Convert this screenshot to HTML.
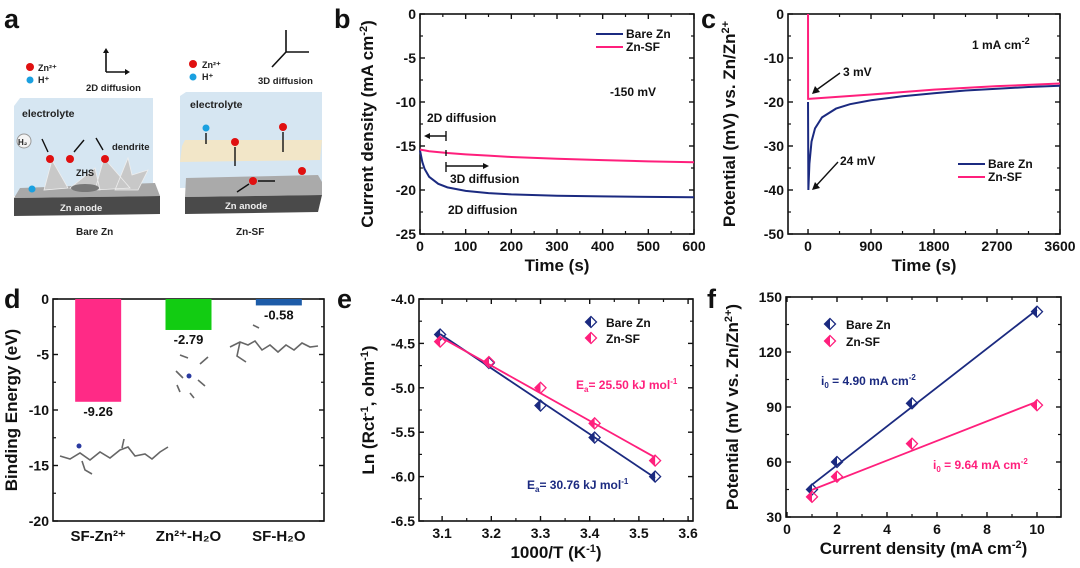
<!DOCTYPE html>
<html><head><meta charset="utf-8">
<style>
html,body{margin:0;padding:0;background:#fff;}
svg{display:block;font-family:"Liberation Sans",Arial,sans-serif;font-weight:bold;}
</style></head>
<body>
<svg id="fig" width="1080" height="568" viewBox="0 0 1080 568" xmlns="http://www.w3.org/2000/svg">
<rect width="1080" height="568" fill="#fff"/>
<!-- panel letters -->
<g font-size="27" fill="#111">
<text x="4" y="28">a</text><text x="334" y="28">b</text><text x="701" y="28">c</text>
<text x="4" y="308">d</text><text x="337" y="308">e</text><text x="707" y="308">f</text>
</g>
<!-- panel a schematic -->
<g>
<circle cx="30" cy="67" r="4" fill="#e01010"/><circle cx="30" cy="80" r="3.5" fill="#1aa0e0"/>
<text x="38" y="71" font-size="9" fill="#222">Zn²⁺</text><text x="38" y="83" font-size="9" fill="#222">H⁺</text>
<path d="M106,72 V50 M106,72 H128" stroke="#111" stroke-width="1.6" fill="none"/>
<path d="M103,53 L106,48 L109,53 Z M125,69 L130,72 L125,75 Z" fill="#111"/>
<text x="86" y="91" font-size="9.5" fill="#222">2D diffusion</text>
<path d="M14,106 L20,98 L153,98 L153,190 L14,196 Z" fill="#d6e6f2"/>
<text x="22" y="117" font-size="10.5" fill="#222">electrolyte</text>
<path d="M20,188 L155,183 L160,196 L14,198 Z" fill="#a8a8a8"/>
<path d="M14,198 L160,196 L160,214 L14,216 Z" fill="#4a4a4a"/>
<text x="60" y="211" font-size="9.5" fill="#eee">Zn anode</text>
<path d="M44,190 L52,160 L68,188 Z M70,188 L95,168 L100,190 Z M95,190 L104,158 L130,188 Z M115,190 L128,158 L132,175 L148,170 L138,190 Z" fill="#c8c8c8" stroke="#eee" stroke-width="0.8"/>
<ellipse cx="85" cy="188" rx="14" ry="4" fill="#777"/>
<text x="76" y="176" font-size="9" fill="#222">ZHS</text>
<text x="112" y="150" font-size="9.5" fill="#222">dendrite</text>
<circle cx="24" cy="141" r="7" fill="#f4f4f4" stroke="#999"/><text x="18" y="145" font-size="8" fill="#222">H₂</text>
<circle cx="50" cy="159" r="4" fill="#e01010"/><circle cx="70" cy="159" r="4" fill="#e01010"/><circle cx="105" cy="159" r="4" fill="#e01010"/>
<circle cx="32" cy="189" r="3.5" fill="#1aa0e0"/>
<path d="M42,139 L48,152 M84,140 L74,152 M96,138 L103,150" stroke="#111" stroke-width="1.4"/>
<text x="76" y="235" font-size="10" fill="#222">Bare Zn</text>
</g>
<g>
<circle cx="193" cy="64" r="4" fill="#e01010"/><circle cx="193" cy="77" r="3.5" fill="#1aa0e0"/>
<text x="202" y="68" font-size="9" fill="#222">Zn²⁺</text><text x="202" y="80" font-size="9" fill="#222">H⁺</text>
<path d="M286,52 V30 M286,52 H309 M286,52 L272,67" stroke="#111" stroke-width="1.6" fill="none"/>
<text x="258" y="84" font-size="9.5" fill="#222">3D diffusion</text>
<path d="M180,96 L186,92 L322,92 L322,185 L180,188 Z" fill="#d6e6f2"/>
<text x="190" y="108" font-size="10.5" fill="#222">electrolyte</text>
<path d="M182,146 L185,140 L322,140 L320,160 L180,162 Z" fill="#f2e6c8"/>
<path d="M186,178 L318,175 L322,182 L322,195 L185,197 Z" fill="#aaaaaa"/>
<path d="M185,197 L322,195 L318,212 L185,214 Z" fill="#4a4a4a"/>
<text x="225" y="209" font-size="9.5" fill="#eee">Zn anode</text>
<circle cx="206" cy="128" r="3.5" fill="#1aa0e0"/><circle cx="235" cy="142" r="4" fill="#e01010"/>
<circle cx="283" cy="127" r="4" fill="#e01010"/><circle cx="302" cy="171" r="4" fill="#e01010"/><circle cx="253" cy="181" r="4" fill="#e01010"/>
<path d="M235,147 V166 M283,132 V152 M258,181 H275 M249,184 L237,192 M206,133 V144" stroke="#111" stroke-width="1.4"/>
<text x="236" y="235" font-size="10" fill="#222">Zn-SF</text>
</g>
<g id="charts"></g>
</svg>
<script>
// ---- data ----
const bTime=[0,5,10,20,40,60,100,150,200,300,400,500,600];
const bBare=[-15.5,-16.8,-17.6,-18.5,-19.3,-19.7,-20.1,-20.35,-20.5,-20.65,-20.72,-20.78,-20.82];
const bSF=[-15.4,-15.45,-15.5,-15.6,-15.7,-15.8,-15.95,-16.1,-16.25,-16.45,-16.6,-16.75,-16.85];
const cTime=[0,5,20,50,100,200,400,600,900,1350,1800,2250,2700,3150,3600];
const cBare=[-20,-40,-34,-29,-26,-23.5,-21.5,-20.5,-19.6,-18.7,-18,-17.4,-17,-16.6,-16.3];
const cSFTime=[0,1,10,900,1800,2700,3600];
const cSF=[0,-19.3,-19.3,-18.3,-17.2,-16.4,-15.8];
const dCats=["SF-Zn²⁺","Zn²⁺-H₂O","SF-H₂O"];
const dVals=[-9.26,-2.79,-0.58];
const dColors=["#ff2a86","#12cc12","#1d5ca8"];
const eX=[3.096,3.195,3.30,3.41,3.533];
const eBare=[-4.4,-4.72,-5.2,-5.56,-6.0];
const eSF=[-4.48,-4.71,-5.0,-5.4,-5.82];
const fX=[1,2,5,10];
const fBare=[45,60,92,142];
const fSF=[41,52,70,91];
const BLUE="#1b2a80", PINK="#ff1f7c";

const NS="http://www.w3.org/2000/svg";
const root=document.getElementById('charts');
function el(tag,attrs,parent){const e=document.createElementNS(NS,tag);for(const k in attrs)e.setAttribute(k,attrs[k]);(parent||root).appendChild(e);return e;}
function txt(s,x,y,size,anchor,parent,fill){const t=el('text',{x:x,y:y,'font-size':size,'text-anchor':anchor||'middle',fill:fill||'#111'},parent);t.innerHTML=s;return t;}
function scale(d0,d1,r0,r1){return v=>r0+(v-d0)/(d1-d0)*(r1-r0);}

function axes(name,box,xd,yd,xt,yt,xlab,ylab,xMinor,yMinor,xTitle,yTitle,titleX,titleYy){
  const g=el('g',{});
  
  
  const sx=scale(xd[0],xd[1],box.x0,box.x1), sy=scale(yd[0],yd[1],box.y1,box.y0);
  el('rect',{x:box.x0,y:box.y0,width:box.x1-box.x0,height:box.y1-box.y0,fill:'none',stroke:'#111','stroke-width':1.6},g);
  xt.forEach((v,i)=>{const X=sx(v);el('line',{x1:X,x2:X,y1:box.y1,y2:box.y1-5,stroke:'#111','stroke-width':1.4},g);el('line',{x1:X,x2:X,y1:box.y0,y2:box.y0+5,stroke:'#111','stroke-width':1.4},g);
    const t=txt(xlab[i],X,box.y1+17,14,'middle',g);});
  if(xMinor)xMinor.forEach(v=>{const X=sx(v);el('line',{x1:X,x2:X,y1:box.y1,y2:box.y1-3,stroke:'#111','stroke-width':1.2},g);el('line',{x1:X,x2:X,y1:box.y0,y2:box.y0+3,stroke:'#111','stroke-width':1.2},g);});
  yt.forEach((v,i)=>{const Y=sy(v);el('line',{x1:box.x0,x2:box.x0+5,y1:Y,y2:Y,stroke:'#111','stroke-width':1.4},g);el('line',{x1:box.x1,x2:box.x1-5,y1:Y,y2:Y,stroke:'#111','stroke-width':1.4},g);
    const t=txt(ylab[i],box.x0-4,Y+5,14,'end',g);});
  if(yMinor)yMinor.forEach(v=>{const Y=sy(v);el('line',{x1:box.x0,x2:box.x0+3,y1:Y,y2:Y,stroke:'#111','stroke-width':1.2},g);el('line',{x1:box.x1,x2:box.x1-3,y1:Y,y2:Y,stroke:'#111','stroke-width':1.2},g);});
  const xtl=txt(xTitle,(box.x0+box.x1)/2,box.y1+37,17,'middle',g);
  
  
  const ytl=txt(yTitle,0,0,17,'middle',g);
  ytl.setAttribute('transform','translate('+titleX+','+((box.y0+box.y1)/2)+') rotate(-90)');
  
  
  return {sx,sy,g};
}
function path(xs,ys,sx,sy,color,g,w){let d='';xs.forEach((x,i)=>{d+=(i?'L':'M')+sx(x).toFixed(2)+','+sy(ys[i]).toFixed(2);});return el('path',{d:d,fill:'none',stroke:color,'stroke-width':w||2},g);}
function diamond(x,y,color,g){const s=5.5;const grp=el('g',{},g);
  el('path',{d:`M${x},${y-s}L${x-s},${y}L${x},${y+s}Z`,fill:color},grp);
  el('path',{d:`M${x},${y-s}L${x-s},${y}L${x},${y+s}L${x+s},${y}Z`,fill:'none',stroke:color,'stroke-width':1.3},grp);return grp;}
function fit(xs,ys){const n=xs.length,mx=xs.reduce((a,b)=>a+b)/n,my=ys.reduce((a,b)=>a+b)/n;let num=0,den=0;xs.forEach((x,i)=>{num+=(x-mx)*(ys[i]-my);den+=(x-mx)*(x-mx);});const m=num/den;return [m,my-m*mx];}
function range(a,b,s){const r=[];for(let v=a;v<=b+1e-9;v+=s)r.push(+v.toFixed(4));return r;}

// ---- panel b ----
(function(){
const A=axes('chart-b-chronoamperometry',{x0:420,x1:694,y0:14,y1:234},[0,600],[-25,0],range(0,600,100),range(-25,0,5),range(0,600,100).map(String),range(-25,0,5).map(String),range(50,550,100),range(-22.5,-2.5,5),'Time (s)','Current density (mA cm<tspan dy="-6" font-size="11">-2</tspan><tspan dy="6">)</tspan>',373);
const p1=path(bTime,bBare,A.sx,A.sy,BLUE,A.g);


const p2=path(bTime,bSF,A.sx,A.sy,PINK,A.g);


const lg=el('g',{},A.g);


el('line',{x1:596,x2:623,y1:34,y2:34,stroke:BLUE,'stroke-width':2},lg);txt('Bare Zn',626,38,12,'start',lg);
el('line',{x1:596,x2:623,y1:47,y2:47,stroke:PINK,'stroke-width':2},lg);txt('Zn-SF',626,51,12,'start',lg);
const an=el('g',{},A.g);


txt('-150 mV',610,96,12,'start',an);
txt('2D diffusion',427,122,12,'start',an);
el('path',{d:'M446,136 H427 M446,131 V141 M446,150 V156 M446,162 V172 M446,166 H485',stroke:'#111','stroke-width':1.4},an);
el('path',{d:'M424,136 L430,133 L430,139Z M489,166 L483,163 L483,169Z',fill:'#111'},an);
txt('3D diffusion',450,183,12,'start',an);
txt('2D diffusion',448,214,12,'start',an);
})();

// ---- panel c ----
(function(){
const A=axes('chart-c-nucleation-overpotential',{x0:788,x1:1060,y0:14,y1:234},[-286,3600],[-50,0],range(0,3600,900),range(-50,0,10),range(0,3600,900).map(String),range(-50,0,10).map(String),range(450,3150,900),range(-45,-5,10),'Time (s)','Potential (mV) vs. Zn/Zn<tspan dy="-6" font-size="11">2+</tspan>',735);
const p1=path(cTime,cBare,A.sx,A.sy,BLUE,A.g);


const p2=path(cSFTime,cSF,A.sx,A.sy,PINK,A.g);


const an=el('g',{},A.g);


txt('1 mA cm<tspan dy="-5" font-size="9">-2</tspan>',972,49,12,'start',an);
txt('3 mV',843,76,12,'start',an);
txt('24 mV',840,165,12,'start',an);
el('path',{d:'M840,73 L815,91 M838,162 L815,187',stroke:'#111','stroke-width':1.4},an);
el('path',{d:'M812,94 L815,86 L820,92Z M812,190 L815,182 L820,188Z',fill:'#111'},an);
const lg=el('g',{},A.g);


el('line',{x1:958,x2:985,y1:164,y2:164,stroke:BLUE,'stroke-width':2},lg);txt('Bare Zn',988,168,12,'start',lg);
el('line',{x1:958,x2:985,y1:177,y2:177,stroke:PINK,'stroke-width':2},lg);txt('Zn-SF',988,181,12,'start',lg);
})();

// ---- panel d ----
(function(){
const box={x0:53,x1:324,y0:299,y1:521};
const A=axes('chart-d-binding-energy',box,[-0.5,2.5],[-20,0],[],range(-20,0,5),[],range(-20,0,5).map(String),null,range(-17.5,-2.5,5),'','Binding Energy (eV)',17);
dCats.forEach((c,i)=>{const X=A.sx(i);
  const b=el('rect',{x:X-23,y:A.sy(0),width:46,height:A.sy(dVals[i])-A.sy(0),fill:dColors[i]},A.g);
  
  
  const v=txt(dVals[i].toFixed(2),X,A.sy(dVals[i])+14,13,'middle',A.g);
  
  
  const l=txt(c,X,box.y1+20,15,'middle',A.g);
  
  
});
const m=el('g',{stroke:'#666','stroke-width':1.6,fill:'none'},A.g);


el('path',{d:'M60,456 L70,459 L80,453 L90,460 L100,452 L110,458 L120,450 L128,447 L135,456 L145,454 L152,459 L160,452 L168,447 M82,461 L85,470 L92,474 M122,448 L124,439'},m);
el('path',{d:'M180,355 L188,358 M200,364 L208,357 M176,371 L183,378 M198,380 L205,386 M177,385 L180,392 M190,393 L194,398'},m);
el('path',{d:'M230,347 L240,342 L248,345 L255,341 L262,350 L270,345 L278,352 L286,345 L294,350 L302,343 L310,347 L318,346 M240,342 L237,356 L246,362 M253,325 L259,328'},m);
el('circle',{cx:79,cy:446,r:2.5,fill:'#2a3aa0',stroke:'none'},A.g);
el('circle',{cx:189,cy:376,r:2.5,fill:'#2a3aa0',stroke:'none'},A.g);
})();

// ---- panel e ----
(function(){
const A=axes('chart-e-arrhenius',{x0:419,x1:693,y0:299,y1:521},[3.053,3.61],[-6.5,-4.0],range(3.1,3.6,0.1),range(-6.5,-4.0,0.5),range(3.1,3.6,0.1).map(v=>v.toFixed(1)),range(-6.5,-4.0,0.5).map(v=>v.toFixed(1)),range(3.15,3.55,0.1),range(-6.25,-4.25,0.5),'1000/T (K<tspan dy="-6" font-size="11">-1</tspan><tspan dy="6">)</tspan>','Ln (Rct<tspan dy="-6" font-size="11">-1</tspan><tspan dy="6">, ohm</tspan><tspan dy="-6" font-size="11">-1</tspan><tspan dy="6">)</tspan>',374);
[[eBare,BLUE,'bare-zn'],[eSF,PINK,'zn-sf']].forEach(([ys,col,nm])=>{
  const [m,b]=fit(eX,ys);
  const ln=el('line',{x1:A.sx(eX[0]),y1:A.sy(m*eX[0]+b),x2:A.sx(eX[eX.length-1]),y2:A.sy(m*eX[eX.length-1]+b),stroke:col,'stroke-width':1.8},A.g);
  
  
  eX.forEach((x,i)=>{const d=diamond(A.sx(x),A.sy(ys[i]),col,A.g);
    
    });
});
const lg=el('g',{},A.g);


diamond(591,322,BLUE,lg);txt('Bare Zn',606,327,12,'start',lg);
diamond(591,338,PINK,lg);txt('Zn-SF',606,343,12,'start',lg);
txt('E<tspan dy="3" font-size="8">a</tspan><tspan dy="-3">= 25.50 kJ mol</tspan><tspan dy="-5" font-size="8">-1</tspan>',576,389,12,'start',A.g,PINK);
txt('E<tspan dy="3" font-size="8">a</tspan><tspan dy="-3">= 30.76 kJ mol</tspan><tspan dy="-5" font-size="8">-1</tspan>',527,489,12,'start',A.g,BLUE);
})();

// ---- panel f ----
(function(){
const A=axes('chart-f-exchange-current',{x0:786,x1:1061,y0:297,y1:517},[-0.04,10.96],[30,150],range(0,10,2),range(30,150,30),range(0,10,2).map(String),range(30,150,30).map(String),range(1,9,2),range(45,135,30),'Current density (mA cm<tspan dy="-6" font-size="11">-2</tspan><tspan dy="6">)</tspan>','Potential (mV vs. Zn/Zn<tspan dy="-6" font-size="11">2+</tspan><tspan dy="6">)</tspan>',738);
[[fBare,BLUE,'bare-zn'],[fSF,PINK,'zn-sf']].forEach(([ys,col,nm])=>{
  const [m,b]=fit(fX,ys);
  const ln=el('line',{x1:A.sx(fX[0]),y1:A.sy(m*fX[0]+b),x2:A.sx(fX[fX.length-1]),y2:A.sy(m*fX[fX.length-1]+b),stroke:col,'stroke-width':1.8},A.g);
  
  
  fX.forEach((x,i)=>{const d=diamond(A.sx(x),A.sy(ys[i]),col,A.g);
    
    });
});
const lg=el('g',{},A.g);


diamond(830,324,BLUE,lg);txt('Bare Zn',846,329,12,'start',lg);
diamond(830,341,PINK,lg);txt('Zn-SF',846,346,12,'start',lg);
txt('i<tspan dy="3" font-size="8">0</tspan><tspan dy="-3"> = 4.90 mA cm</tspan><tspan dy="-5" font-size="8">-2</tspan>',821,385,12,'start',A.g,BLUE);
txt('i<tspan dy="3" font-size="8">0</tspan><tspan dy="-3"> = 9.64 mA cm</tspan><tspan dy="-5" font-size="8">-2</tspan>',933,469,12,'start',A.g,PINK);
})();
</script>
</body></html>
